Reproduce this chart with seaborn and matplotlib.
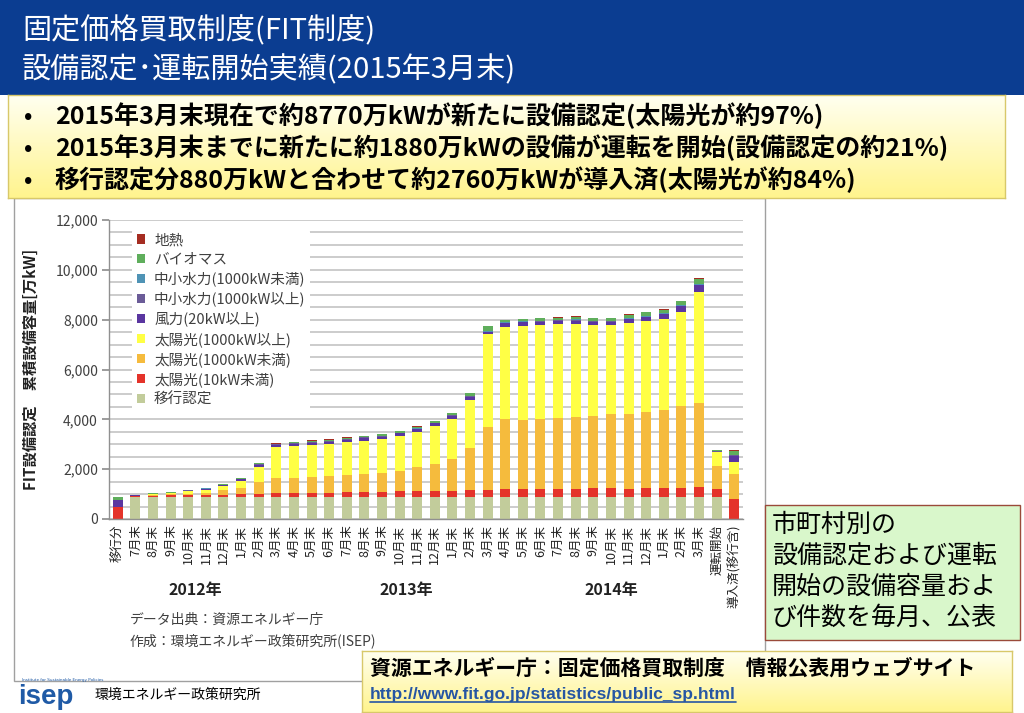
import numpy as np
import pandas as pd
import matplotlib
matplotlib.use('Agg')
import matplotlib.pyplot as plt
import seaborn as sns
from matplotlib.patches import Rectangle, Patch
from matplotlib.lines import Line2D
from matplotlib.colors import LinearSegmentedColormap
from matplotlib.ticker import FuncFormatter, MultipleLocator
from matplotlib.transforms import blended_transform_factory

# =============================================================================
# 1. DATA (万kW, cumulative certified capacity)
# =============================================================================
period_keys = ['移行分',
               '2012-07', '2012-08', '2012-09', '2012-10', '2012-11', '2012-12',
               '2013-01', '2013-02', '2013-03', '2013-04', '2013-05', '2013-06',
               '2013-07', '2013-08', '2013-09', '2013-10', '2013-11', '2013-12',
               '2014-01', '2014-02', '2014-03', '2014-04', '2014-05', '2014-06',
               '2014-07', '2014-08', '2014-09', '2014-10', '2014-11', '2014-12',
               '2015-01', '2015-02', '2015-03',
               '運転開始', '導入済(移行含)']

tick_labels = ['移行分',
               '7月末', '8月末', '9月末', '10月末', '11月末', '12月末',
               '1月末', '2月末', '3月末', '4月末', '5月末', '6月末',
               '7月末', '8月末', '9月末', '10月末', '11月末', '12月末',
               '1月末', '2月末', '3月末', '4月末', '5月末', '6月末',
               '7月末', '8月末', '9月末', '10月末', '11月末', '12月末',
               '1月末', '2月末', '3月末',
               '運転開始', '導入済(移行含)']

year_labels = ['2012年', '2013年', '2014年']

iko_nintei = [0, 880, 880, 880, 880, 880, 880, 880, 880, 880, 880, 880, 880,
              880, 880, 880, 880, 880, 880, 880, 880, 880, 880, 880, 880,
              880, 880, 880, 880, 880, 880, 880, 880, 880, 880, 0]
solar_10 = [470, 40, 55, 65, 70, 80, 95, 115, 135, 150, 150, 175, 175,
            200, 210, 210, 225, 250, 250, 255, 280, 267, 307, 307, 307,
            307, 307, 347, 347, 334, 374, 374, 374, 400, 334, 789]
solar_1000u = [30, 10, 35, 50, 70, 90, 170, 240, 460, 620, 630, 630, 670,
               680, 735, 760, 840, 950, 1080, 1270, 1670, 2560, 2808, 2794, 2834,
               2861, 2900, 2900, 2995, 3008, 3060, 3128, 3262, 3370, 922, 1003]
solar_1000o = [0, 5, 15, 45, 90, 120, 160, 300, 610, 1240, 1270, 1280, 1270,
               1320, 1320, 1360, 1400, 1430, 1540, 1620, 1965, 3717, 3717, 3784, 3784,
               3797, 3757, 3650, 3556, 3663, 3650, 3637, 3810, 4479, 535, 481]
wind = [260, 15, 20, 10, 25, 40, 50, 70, 90, 90, 90, 100, 100,
        110, 110, 100, 90, 100, 90, 125, 110, 75, 140, 127, 114,
        114, 114, 140, 140, 140, 140, 190, 215, 250, 30, 275]
hydro_large = [10, 5, 5, 5, 10, 10, 15, 15, 15, 15, 15, 20, 20,
               20, 20, 20, 20, 20, 20, 20, 20, 20, 20, 20, 20,
               20, 20, 20, 20, 20, 20, 25, 25, 30, 10, 20]
hydro_small = [0, 5, 5, 5, 5, 5, 5, 5, 10, 10, 10, 10, 10,
               10, 10, 10, 10, 10, 10, 10, 15, 40, 25, 25, 25,
               25, 30, 25, 25, 30, 30, 30, 30, 40, 10, 15]
biomass = [110, 5, 10, 20, 30, 30, 35, 30, 30, 20, 30, 50, 60,
           50, 50, 60, 70, 70, 60, 60, 105, 180, 80, 80, 90,
           80, 110, 90, 90, 120, 140, 140, 140, 190, 40, 145]
geothermal = [0, 0, 0, 0, 0, 5, 5, 5, 10, 10, 10, 10, 10,
              10, 10, 10, 10, 10, 10, 10, 10, 20, 15, 15, 15,
              15, 20, 15, 15, 15, 20, 15, 25, 30, 10, 30]

layer_names = ['移行認定', '太陽光(10kW未満)', '太陽光(1000kW未満)', '太陽光(1000kW以上)',
               '風力(20kW以上)', '中小水力(1000kW以上)', '中小水力(1000kW未満)',
               'バイオマス', '地熱']
layer_colors = ['#c2cc9b', '#e4332a', '#f5bb3d', '#ffff45', '#5a36a0',
                '#6b5c98', '#4f93b5', '#5fae5c', '#a52d22']

df = pd.DataFrame({'period': period_keys})
for name, vals in zip(layer_names, [iko_nintei, solar_10, solar_1000u, solar_1000o, wind,
                                    hydro_large, hydro_small, biomass, geothermal]):
    df[name] = vals
cum = df[layer_names].cumsum(axis=1)

# =============================================================================
# 2. FIGURE / SLIDE LAYOUT
# =============================================================================
W, H = 1024, 713
sns.set_theme(style='white')
plt.rcParams['font.family'] = ['Noto Sans CJK JP', 'DejaVu Sans']


def fx(x):
    return x / W


def fy(y):
    return 1 - y / H


fig = plt.figure(figsize=(W / 100, H / 100), dpi=100)
fig.patch.set_facecolor('white')

# blue title banner
fig.add_artist(Rectangle((0, fy(95)), 1, 95 / H, transform=fig.transFigure,
                         facecolor='#0b3d91', edgecolor='none', zorder=-2))
fig.text(fx(22), fy(31), '固定価格買取制度(FIT制度)', color='white', fontsize=21,
         ha='left', va='center')
fig.text(fx(22), fy(70), '設備認定･運転開始実績(2015年3月末)', color='white', fontsize=21,
         ha='left', va='center')

# chart frame
fig.add_artist(Rectangle((fx(14), fy(681)), (765 - 14) / W, (681 - 198) / H,
                         transform=fig.transFigure, facecolor='white',
                         edgecolor='#a0a0a0', lw=1, zorder=-1))


def grad_box(x0, y0, x1, y1, c_top, c_bot, edge):
    bax = fig.add_axes([fx(x0), fy(y1), (x1 - x0) / W, (y1 - y0) / H], zorder=5)
    cmap = LinearSegmentedColormap.from_list('g', [c_top, c_bot])
    bax.imshow(np.linspace(0, 1, 64).reshape(-1, 1), aspect='auto', cmap=cmap,
               extent=[0, 1, 0, 1])
    bax.set_xticks([])
    bax.set_yticks([])
    for s in bax.spines.values():
        s.set_color(edge)
        s.set_linewidth(1)
    return bax


# bullet box
top_box = grad_box(8, 95, 1005, 198, '#fffff0', '#fff48e', '#d8c86a')
bullets = ['2015年3月末現在で約8770万kWが新たに設備認定(太陽光が約97%)',
           '2015年3月末までに新たに約1880万kWの設備が運転を開始(設備認定の約21%)',
           '移行認定分880万kWと合わせて約2760万kWが導入済(太陽光が約84%)']
for i, t in enumerate(bullets):
    yy = 116 + i * 32
    top_box.text(fx(24), fy(yy), '•', transform=fig.transFigure, fontsize=16,
                 fontweight='bold', ha='left', va='center', color='black')
    top_box.text(fx(55), fy(yy), t, transform=fig.transFigure, fontsize=18,
                 fontweight='bold', ha='left', va='center', color='black')

# =============================================================================
# 3. CHART
# =============================================================================
ax = fig.add_axes([fx(109), fy(519), 634 / W, 299 / H])
ax.set_facecolor('none')

for name, color in zip(reversed(layer_names), reversed(layer_colors)):
    sns.barplot(x=df['period'], y=cum[name], order=period_keys, color=color,
                width=0.57, saturation=1, linewidth=0, errorbar=None, ax=ax)

ax.set_ylim(0, 12000)
ax.yaxis.set_major_locator(MultipleLocator(2000))
ax.yaxis.set_minor_locator(MultipleLocator(500))
ax.yaxis.set_major_formatter(FuncFormatter(lambda v, p: f'{v:,.0f}'))
ax.grid(True, axis='y', which='both', color='#c8c8c8', lw=1.3)
ax.set_axisbelow(True)
ax.tick_params(axis='y', which='major', length=5, color='#909090', labelsize=10,
               labelcolor='#404040', left=True, pad=3)
ax.tick_params(axis='y', which='minor', length=0)
ax.set_xticks(range(len(tick_labels)))
ax.set_xticklabels(tick_labels, rotation=90, ha='center', va='top', fontsize=9,
                   color='#222222')
ax.tick_params(axis='x', length=0, pad=4)
for s in ['top', 'right']:
    ax.spines[s].set_visible(False)
for s in ['left', 'bottom']:
    ax.spines[s].set_color('#909090')
    ax.spines[s].set_linewidth(1)

ax.set_xlabel('')
ax.set_ylabel('FIT設備認定　累積設備容量[万kW]', fontsize=11, fontweight='bold',
              color='#222222')
ax.yaxis.set_label_coords(-(109 - 39) / 634, 0.5)

trans = blended_transform_factory(ax.transData, ax.transAxes)
for label, xpos in zip(year_labels, [4.4, 16.4, 28.0]):
    ax.text(xpos, -0.237, label, transform=trans, ha='center', va='center',
            fontsize=11.5, fontweight='bold', color='#222222')

handles = [Patch(facecolor=c, edgecolor='none', label=n)
           for n, c in zip(reversed(layer_names), reversed(layer_colors))]
leg = ax.legend(handles=handles, loc='upper left', bbox_to_anchor=(0.025, 0.995),
                fontsize=10.5, frameon=True, facecolor='white', edgecolor='none',
                framealpha=1, handlelength=0.6, handleheight=0.6,
                handletextpad=0.6, labelspacing=0.36, borderpad=0.3)
for t in leg.get_texts():
    t.set_color('#404040')

fig.text(fx(130), fy(620), 'データ出典：資源エネルギー庁', fontsize=10,
         color='#404040', ha='left', va='center')
fig.text(fx(130), fy(641), '作成：環境エネルギー政策研究所(ISEP)', fontsize=10,
         color='#404040', ha='left', va='center')

# =============================================================================
# 4. SIDE NOTE, FOOTER
# =============================================================================
fig.add_artist(Rectangle((fx(765), fy(640)), (1020 - 765) / W, (640 - 505) / H,
                         transform=fig.transFigure, facecolor='#d9f7cb',
                         edgecolor='#9a4a3a', lw=1, zorder=2))
for i, t in enumerate(['市町村別の', '設備認定および運転', '開始の設備容量およ',
                       'び件数を毎月、公表']):
    fig.text(fx(772), fy(525 + i * 31), t, fontsize=18, color='black',
             ha='left', va='center', zorder=3)

bot_box = grad_box(362, 651, 1012, 712, '#fffff0', '#fff48e', '#d8c86a')
bot_box.text(fx(370), fy(668), '資源エネルギー庁：固定価格買取制度　情報公表用ウェブサイト',
             transform=fig.transFigure, fontsize=15, fontweight='bold',
             ha='left', va='center', color='black')
url = bot_box.text(fx(370), fy(695), 'http://www.fit.go.jp/statistics/public_sp.html',
                   transform=fig.transFigure, fontsize=12.5, fontweight='bold',
                   family='Liberation Sans', ha='left', va='center', color='#2656a3')

fig.text(fx(18), fy(697), 'isep', fontsize=20, fontweight='bold',
         family='Liberation Sans', color='#1f5aa6', ha='left', va='center')
fig.text(fx(22), fy(680), 'Institute for Sustainable Energy Policies', fontsize=3,
         family='DejaVu Sans', color='#1f5aa6', ha='left', va='center')
fig.text(fx(95), fy(695), '環境エネルギー政策研究所', fontsize=10, color='black',
         ha='left', va='center')

# underline for the url
fig.canvas.draw()
bb = url.get_window_extent()
bot_box.add_line(Line2D([bb.x0 / W, bb.x1 / W], [(bb.y0 + 1) / H, (bb.y0 + 1) / H],
                        transform=fig.transFigure, color='#2656a3', lw=1.2))

fig.savefig('out.png', dpi=100)
